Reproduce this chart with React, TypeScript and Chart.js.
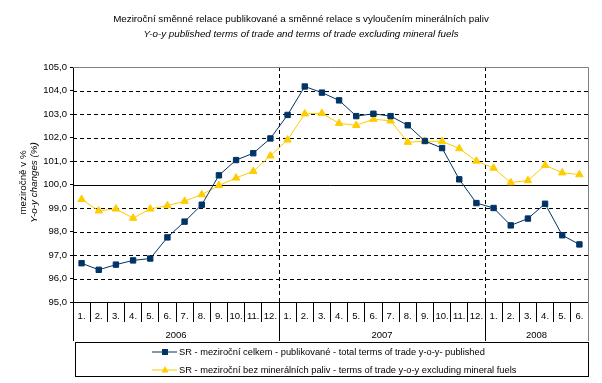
import React, { useEffect, useRef } from "react";
import { Chart, registerables } from "chart.js";

Chart.register(...registerables);

const monthLabels = [
  "1.", "2.", "3.", "4.", "5.", "6.", "7.", "8.", "9.", "10.", "11.", "12.",
  "1.", "2.", "3.", "4.", "5.", "6.", "7.", "8.", "9.", "10.", "11.", "12.",
  "1.", "2.", "3.", "4.", "5.", "6.",
];
const yearLabels = ["2006", "2007", "2008"];
const yearMonthCounts = [12, 12, 6];

const publishedValues = [
  96.65, 96.37, 96.59, 96.77, 96.85, 97.75, 98.42, 99.14, 100.39, 101.04, 101.33, 101.96,
  102.96, 104.17, 103.91, 103.58, 102.91, 103.01, 102.91, 102.52, 101.85, 101.55, 100.22, 99.21,
  99.0, 98.26, 98.55, 99.18, 97.84, 97.45,
];
const excludingFuelsValues = [
  99.37, 98.88, 98.96, 98.57, 98.96, 99.1, 99.29, 99.57, 99.96, 100.28, 100.56, 101.22,
  101.9, 103.01, 103.03, 102.6, 102.52, 102.78, 102.71, 101.8, 101.84, 101.84, 101.53, 101.0,
  100.7, 100.08, 100.17, 100.82, 100.5, 100.42,
];

const yMin = 95;
const yMax = 105;
const yStep = 1;
const yBaseline = 100;

const titleLines = [
  "Meziroční směnné relace publikované a směnné relace s vyloučením minerálních paliv",
  "Y-o-y published terms of trade and terms of trade excluding mineral fuels",
];
const yTitleLines = ["meziročně v %", "Y-o-y changes (%)"];
const seriesLabels = [
  "SR - meziroční celkem - publikované - total terms of trade y-o-y- published",
  "SR - meziroční bez minerálních paliv - terms of trade y-o-y excluding mineral fuels",
];

const FONT = '"Liberation Sans", Arial, sans-serif';
const BLUE = "#003366";
const YELLOW = "#FFCC00";

function boundaryPixel(x: any, idx: number): number {
  const n = monthLabels.length;
  if (idx <= 0) return x.left;
  if (idx >= n) return x.right;
  return (x.getPixelForValue(idx - 1) + x.getPixelForValue(idx)) / 2;
}

const decorPlugin = {
  id: "decor",
  beforeDatasetsDraw(chart: any) {
    const { ctx, chartArea: a, scales } = chart;
    const x = scales.x;
    const y = scales.y;
    ctx.save();
    ctx.lineWidth = 1;
    y.ticks.forEach((t: any) => {
      if (t.value === yMax || t.value === yMin) return;
      const py = Math.round(y.getPixelForValue(t.value)) + 0.5;
      ctx.beginPath();
      ctx.setLineDash(t.value === yBaseline ? [] : [4, 3]);
      ctx.strokeStyle = "#000";
      ctx.moveTo(a.left, py);
      ctx.lineTo(a.right, py);
      ctx.stroke();
    });
    let acc = 0;
    for (let i = 0; i < yearMonthCounts.length - 1; i++) {
      acc += yearMonthCounts[i];
      const px = Math.round(boundaryPixel(x, acc)) + 0.5;
      ctx.beginPath();
      ctx.setLineDash([4, 3]);
      ctx.strokeStyle = "#000";
      ctx.moveTo(px, a.top);
      ctx.lineTo(px, a.bottom);
      ctx.stroke();
    }
    ctx.setLineDash([]);
    ctx.strokeStyle = "#808080";
    ctx.beginPath();
    const top = Math.round(a.top) + 0.5;
    const right = Math.round(a.right) + 0.5;
    ctx.moveTo(a.left, top);
    ctx.lineTo(right, top);
    ctx.lineTo(right, a.bottom + 39);
    ctx.stroke();
    ctx.restore();
  },
  afterDraw(chart: any) {
    const { ctx, chartArea: a, scales } = chart;
    const x = scales.x;
    ctx.save();
    ctx.fillStyle = "#000";
    ctx.strokeStyle = "#000";
    ctx.lineWidth = 1;
    ctx.setLineDash([]);

    ctx.textAlign = "center";
    ctx.textBaseline = "middle";
    ctx.font = `9.8px ${FONT}`;
    ctx.fillText(titleLines[0], 301, 19);
    ctx.font = `italic 9.8px ${FONT}`;
    ctx.fillText(titleLines[1], 301, 34);

    const midY = (a.top + a.bottom) / 2 - 2;
    ctx.save();
    ctx.translate(23, midY);
    ctx.rotate(-Math.PI / 2);
    ctx.font = `9.8px ${FONT}`;
    ctx.fillText(yTitleLines[0], 0, 0);
    ctx.restore();
    ctx.save();
    ctx.translate(34, midY);
    ctx.rotate(-Math.PI / 2);
    ctx.font = `italic 9.8px ${FONT}`;
    ctx.fillText(yTitleLines[1], 0, 0);
    ctx.restore();

    const bottom = a.bottom;
    const sepBottom = bottom + 39;
    let acc = 0;
    const bounds = [0];
    yearMonthCounts.forEach((c) => {
      acc += c;
      bounds.push(acc);
    });
    bounds.forEach((b, i) => {
      if (i === bounds.length - 1) return;
      const px = Math.round(boundaryPixel(x, b)) + 0.5;
      ctx.beginPath();
      ctx.moveTo(px, bottom);
      ctx.lineTo(px, sepBottom);
      ctx.stroke();
    });
    ctx.font = `9.5px ${FONT}`;
    ctx.textAlign = "center";
    ctx.textBaseline = "middle";
    yearLabels.forEach((lab, i) => {
      const cx = (boundaryPixel(x, bounds[i]) + boundaryPixel(x, bounds[i + 1])) / 2;
      ctx.fillText(lab, cx, bottom + 33);
    });

    const lx = 75.5;
    const ly = bottom + 40.5;
    const lw = Math.round(a.right) - 75;
    const lh = 34;
    ctx.strokeStyle = "#000";
    ctx.strokeRect(lx, ly, lw, lh);
    const rows = [ly + 9.5, ly + 27.5];
    const colors = [BLUE, YELLOW];
    chart.data.datasets.forEach((ds: any, i: number) => {
      const ry = rows[i];
      ctx.strokeStyle = colors[i];
      ctx.fillStyle = colors[i];
      ctx.beginPath();
      ctx.moveTo(152, ry);
      ctx.lineTo(177, ry);
      ctx.stroke();
      if (i === 0) {
        ctx.fillRect(162, ry - 3, 6, 6);
      } else {
        ctx.beginPath();
        ctx.moveTo(165, ry - 4);
        ctx.lineTo(168.5, ry + 2.5);
        ctx.lineTo(161.5, ry + 2.5);
        ctx.closePath();
        ctx.fill();
      }
      ctx.fillStyle = "#000";
      ctx.font = `9.3px ${FONT}`;
      ctx.textAlign = "left";
      ctx.textBaseline = "middle";
      ctx.fillText(ds.label, 179, ry);
    });
    ctx.restore();
  },
};

export default function App() {
  const ref = useRef<HTMLCanvasElement | null>(null);
  useEffect(() => {
    if (!ref.current) return;
    const chart = new Chart(ref.current, {
      type: "line",
      data: {
        labels: monthLabels,
        datasets: [
          {
            label: seriesLabels[0],
            data: publishedValues,
            borderColor: BLUE,
            backgroundColor: BLUE,
            borderWidth: 1,
            pointStyle: "rect",
            pointRadius: 3.8,
            pointBorderWidth: 1,
            pointBorderColor: BLUE,
            pointBackgroundColor: BLUE,
            tension: 0,
          },
          {
            label: seriesLabels[1],
            data: excludingFuelsValues,
            borderColor: YELLOW,
            backgroundColor: YELLOW,
            borderWidth: 1,
            pointStyle: "triangle",
            pointRadius: 4.3,
            pointBorderWidth: 1,
            pointBorderColor: YELLOW,
            pointBackgroundColor: YELLOW,
            tension: 0,
          },
        ],
      },
      options: {
        animation: false,
        responsive: false,
        devicePixelRatio: 1,
        layout: { padding: { top: 67, right: 14, bottom: 0, left: 0 } },
        plugins: {
          legend: { display: false },
          title: { display: false },
          tooltip: { enabled: false },
        },
        scales: {
          x: {
            type: "category",
            offset: true,
            grid: {
              display: true,
              drawOnChartArea: false,
              offset: true,
              tickLength: 20,
              color: "#000",
              lineWidth: 1,
            },
            border: { display: true, color: "#000" },
            ticks: {
              autoSkip: false,
              maxRotation: 0,
              minRotation: 0,
              padding: -11,
              color: "#000",
              font: { family: FONT, size: 9.5 },
            },
            afterFit: (s: any) => {
              s.height = 81;
            },
          },
          y: {
            min: yMin,
            max: yMax,
            ticks: {
              stepSize: yStep,
              color: "#000",
              padding: 3,
              font: { family: FONT, size: 9.5 },
              callback: (v: any) => Number(v).toFixed(1).replace(".", ","),
            },
            grid: {
              display: true,
              drawOnChartArea: false,
              tickLength: 3,
              color: "#000",
            },
            border: { display: true, color: "#000" },
            afterFit: (s: any) => {
              s.width = 73;
            },
          },
        },
      },
      plugins: [decorPlugin],
    });
    return () => chart.destroy();
  }, []);
  return (
    <div style={{ position: "absolute", left: 0, top: 0, width: 602, height: 383, background: "#fff" }}>
      <canvas ref={ref} width={602} height={383} style={{ display: "block" }} />
    </div>
  );
}
